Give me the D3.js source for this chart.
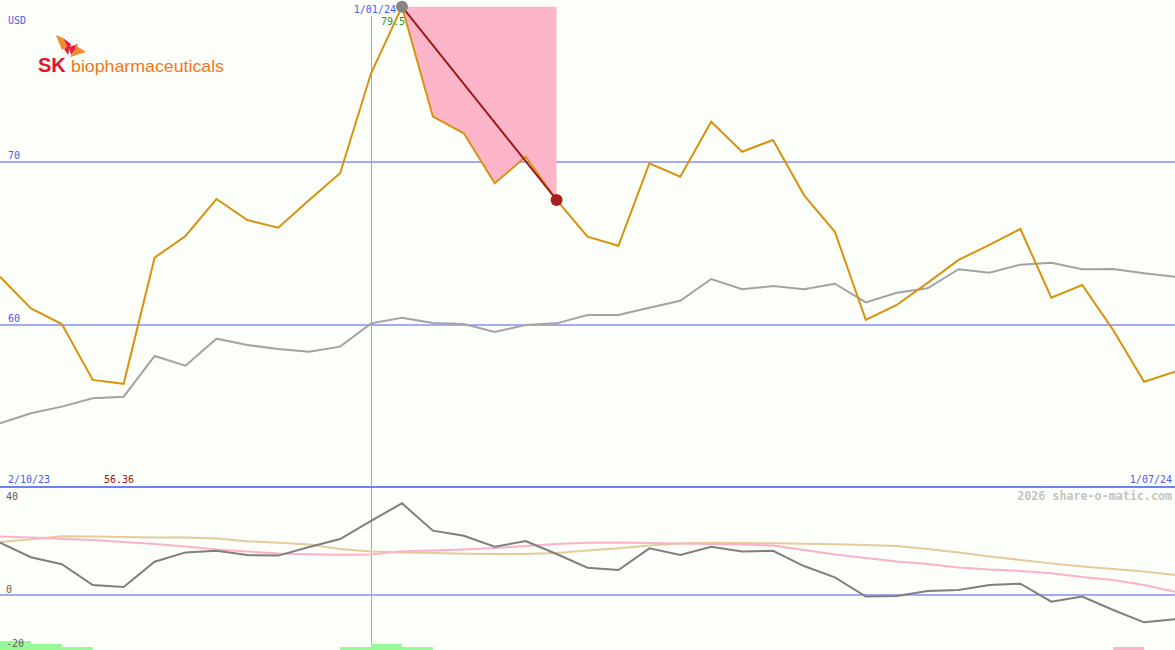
<!DOCTYPE html>
<html><head><meta charset="utf-8">
<script src="https://cdn.jsdelivr.net/npm/d3@7/dist/d3.min.js"></script>
<style>
html,body{margin:0;padding:0;background:#fbfef9;}
svg{display:block;}
text.mono{font-family:"DejaVu Sans Mono",monospace;}
text.logo{font-family:"Liberation Sans",Arial,sans-serif;}
</style></head>
<body><svg id="chart" width="1175" height="650"></svg>
<script>
// ---- data ----
const dates = ["2/10/23","9/10/23","16/10/23","23/10/23","30/10/23","6/11/23","13/11/23","20/11/23","27/11/23","4/12/23","11/12/23","18/12/23","25/12/23","1/01/24","8/01/24","15/01/24","22/01/24","29/01/24","5/02/24","12/02/24","19/02/24","26/02/24","4/03/24","11/03/24","18/03/24","25/03/24","1/04/24","8/04/24","15/04/24","22/04/24","29/04/24","6/05/24","13/05/24","20/05/24","27/05/24","3/06/24","10/06/24","17/06/24","24/06/24"];
const price = [62.93,60.99,60.03,56.60,56.36,64.10,65.43,67.70,66.41,65.94,67.64,69.28,75.41,79.50,72.75,71.73,68.66,70.29,67.64,65.39,64.83,69.89,69.07,72.44,70.60,71.32,67.94,65.69,60.28,61.20,62.55,63.96,64.88,65.86,61.64,62.42,59.66,56.49,57.10];
const avgLine = [53.94,54.55,54.96,55.47,55.57,58.07,57.47,59.13,58.74,58.50,58.33,58.64,60.07,60.42,60.09,60.03,59.54,59.97,60.07,60.58,60.58,61.03,61.46,62.79,62.16,62.36,62.16,62.50,61.36,61.95,62.22,63.39,63.18,63.67,63.79,63.39,63.40,63.14,62.93];
const oscGray = [19.5,14.1,11.5,3.7,3.0,12.4,15.9,16.5,14.9,14.7,17.9,20.9,27.7,34.2,24.0,22.1,18.0,20.1,15.3,10.2,9.3,17.4,14.9,18.0,16.2,16.5,10.8,6.6,-0.6,-0.4,1.5,1.9,3.7,4.2,-2.5,-0.6,-5.6,-10.2,-9.0];
const oscPink = [21.8,21.5,20.9,20.5,19.8,19.0,18.1,17.0,16.2,15.5,15.2,15.0,15.1,16.3,16.6,17.0,17.5,18.3,19.0,19.5,19.6,19.4,19.2,19.0,18.8,18.5,16.8,15.1,13.8,12.5,11.6,10.3,9.5,9.0,8.1,6.7,5.6,3.7,1.2];
const oscTan = [19.8,20.8,21.9,21.8,21.6,21.5,21.5,21.1,20.1,19.5,18.8,17.2,16.2,15.9,15.7,15.4,15.3,15.3,15.7,16.6,17.4,18.5,19.2,19.5,19.4,19.3,19.1,18.9,18.7,18.3,17.2,15.9,14.4,13.1,11.8,10.6,9.7,8.8,7.5];
const signal = [3,2,1,0,0,0,0,0,0,0,0,1,2,1,0,0,0,0,0,0,0,0,0,0,0,0,0,0,0,0,0,0,0,0,0,0,-1,0,0];
const priceTicks = [60,70];
const oscTicks = [40,0,-20];
const peakIndex = 13, dropIndex = 18, markerIndex = 12;
const startLabel = "2/10/23", endLabel = "1/07/24", minLabel = "56.36", peakLabel = "79.5";

// ---- layout ----
const W = 1175, H = 650;
const svg = d3.select("#chart");
const idx = d3.range(dates.length);
const x = d3.scaleLinear().domain([0, dates.length - 1]).range([0, W]);
const y = d3.scaleLinear().domain([60, 70]).range([324.5, 161.5]);
const yo = d3.scaleLinear().domain([0, 40]).range([595, 487.8]);
const ySig = d3.scaleLinear().domain([0, 3]).range([0, 9]);

const blue = "#a3acf2", blueText = "#4a5cf0";

// main gridlines
svg.append("g").selectAll("line").data(priceTicks).join("line")
  .attr("x1", 0).attr("x2", W).attr("y1", d => y(d)).attr("y2", d => y(d))
  .attr("stroke", blue).attr("stroke-width", 2).attr("shape-rendering", "crispEdges");
svg.append("g").selectAll("text").data(priceTicks).join("text").attr("class", "mono")
  .attr("x", 8).attr("y", d => y(d) - 3).attr("font-size", 10).attr("fill", blueText).text(d => d);

// vertical marker line
svg.append("rect").attr("x", Math.round(x(markerIndex)))
  .attr("y", 16).attr("width", 1).attr("height", H - 16).attr("fill", "#96a0f6");

// oscillator zero line
svg.append("line").attr("x1", 0).attr("x2", W).attr("y1", yo(0)).attr("y2", yo(0))
  .attr("stroke", blue).attr("stroke-width", 2).attr("shape-rendering", "crispEdges");

// separator
svg.append("line").attr("x1", 0).attr("x2", W).attr("y1", 487).attr("y2", 487)
  .attr("stroke", "#6f80ef").attr("stroke-width", 2).attr("shape-rendering", "crispEdges");

// pink drop area
const seg = idx.filter(i => i >= peakIndex && i <= dropIndex);
svg.append("path").datum(seg)
  .attr("d", d3.area().x(i => x(i)).y0(y(price[peakIndex])).y1(i => y(price[i])))
  .attr("fill", "#fdb5c9");

// main lines
const lineOf = arr => d3.line().x(i => x(i)).y(i => y(arr[i]));
svg.append("path").datum(idx).attr("d", lineOf(avgLine)).attr("fill", "none")
  .attr("stroke", "#a3a3a3").attr("stroke-width", 2);
svg.append("path").datum(idx).attr("d", lineOf(price)).attr("fill", "none")
  .attr("stroke", "#d8930c").attr("stroke-width", 2);

// drop line
svg.append("line").attr("x1", x(peakIndex)).attr("y1", y(price[peakIndex]))
  .attr("x2", x(dropIndex)).attr("y2", y(price[dropIndex]))
  .attr("stroke", "#9e1a1a").attr("stroke-width", 2);
svg.append("circle").attr("cx", x(dropIndex)).attr("cy", y(price[dropIndex])).attr("r", 6).attr("fill", "#a8201e");
svg.append("circle").attr("cx", x(peakIndex)).attr("cy", y(price[peakIndex])).attr("r", 6).attr("fill", "#858585");

// oscillator bars
svg.append("g").selectAll("rect").data(idx.filter(i => signal[i] !== 0)).join("rect")
  .attr("x", i => x(i)).attr("width", i => x(i + 1) - x(i))
  .attr("y", i => H - ySig(Math.abs(signal[i]))).attr("height", i => ySig(Math.abs(signal[i])))
  .attr("fill", i => signal[i] > 0 ? "#98f898" : "#fbb6c8");

// oscillator lines
const olineOf = arr => d3.line().x(i => x(i)).y(i => yo(arr[i]));
svg.append("path").datum(idx).attr("d", olineOf(oscTan)).attr("fill", "none").attr("stroke", "#e4cc9c").attr("stroke-width", 2);
svg.append("path").datum(idx).attr("d", olineOf(oscPink)).attr("fill", "none").attr("stroke", "#fbb2c8").attr("stroke-width", 2);
svg.append("path").datum(idx).attr("d", olineOf(oscGray)).attr("fill", "none").attr("stroke", "#7f7f7f").attr("stroke-width", 2);

// oscillator tick labels
const oscLabelY = {40: 500, 0: 593, "-20": 647};
svg.append("g").selectAll("text").data(oscTicks).join("text").attr("class", "mono")
  .attr("x", 6).attr("y", d => oscLabelY[d]).attr("font-size", 10).attr("fill", "#606060").text(d => d);

// texts
const T = (xx, yy, s, fill, anchor) => svg.append("text").attr("class", "mono").attr("x", xx).attr("y", yy)
  .attr("font-size", 10).attr("fill", fill).attr("text-anchor", anchor || "start").text(s);
T(8, 24, "USD", blueText);
T(x(peakIndex) - 6, 13, dates[peakIndex], blueText, "end");
T(x(peakIndex) - 21, 25, peakLabel, "#1f9a1f");
T(8, 483, startLabel, blueText);
T(104, 483, minLabel, "#a01515");
T(1172, 483, endLabel, blueText, "end");
T(1172, 500, "2026 share-o-matic.com", "#c4c4c4", "end").attr("font-size", 11.7).attr("font-weight", "bold");

// logo
const logo = svg.append("g");
logo.append("path").attr("d", "M56,35 L63,38 L67,46 L62,50 Z").attr("fill", "#f28b2c");
logo.append("path").attr("d", "M63,38 L71,44 L68,55 L64,49 L67,46 Z").attr("fill", "#e2243a");
logo.append("path").attr("d", "M69,47 L78,44 L75,50 L71,55 Z").attr("fill", "#e2243a");
logo.append("path").attr("d", "M75,45 L86,52 L70,57 L75,50 Z").attr("fill", "#f28b2c");
logo.append("text").attr("class", "logo").attr("x", 38).attr("y", 72)
  .attr("font-weight", "bold").attr("font-size", 20).attr("fill", "#e4112e").text("SK");
logo.append("text").attr("class", "logo").attr("x", 71).attr("y", 72)
  .attr("font-size", 17).attr("textLength", 153).attr("lengthAdjust", "spacingAndGlyphs").attr("fill", "#f07820").text("biopharmaceuticals");
</script></body></html>
